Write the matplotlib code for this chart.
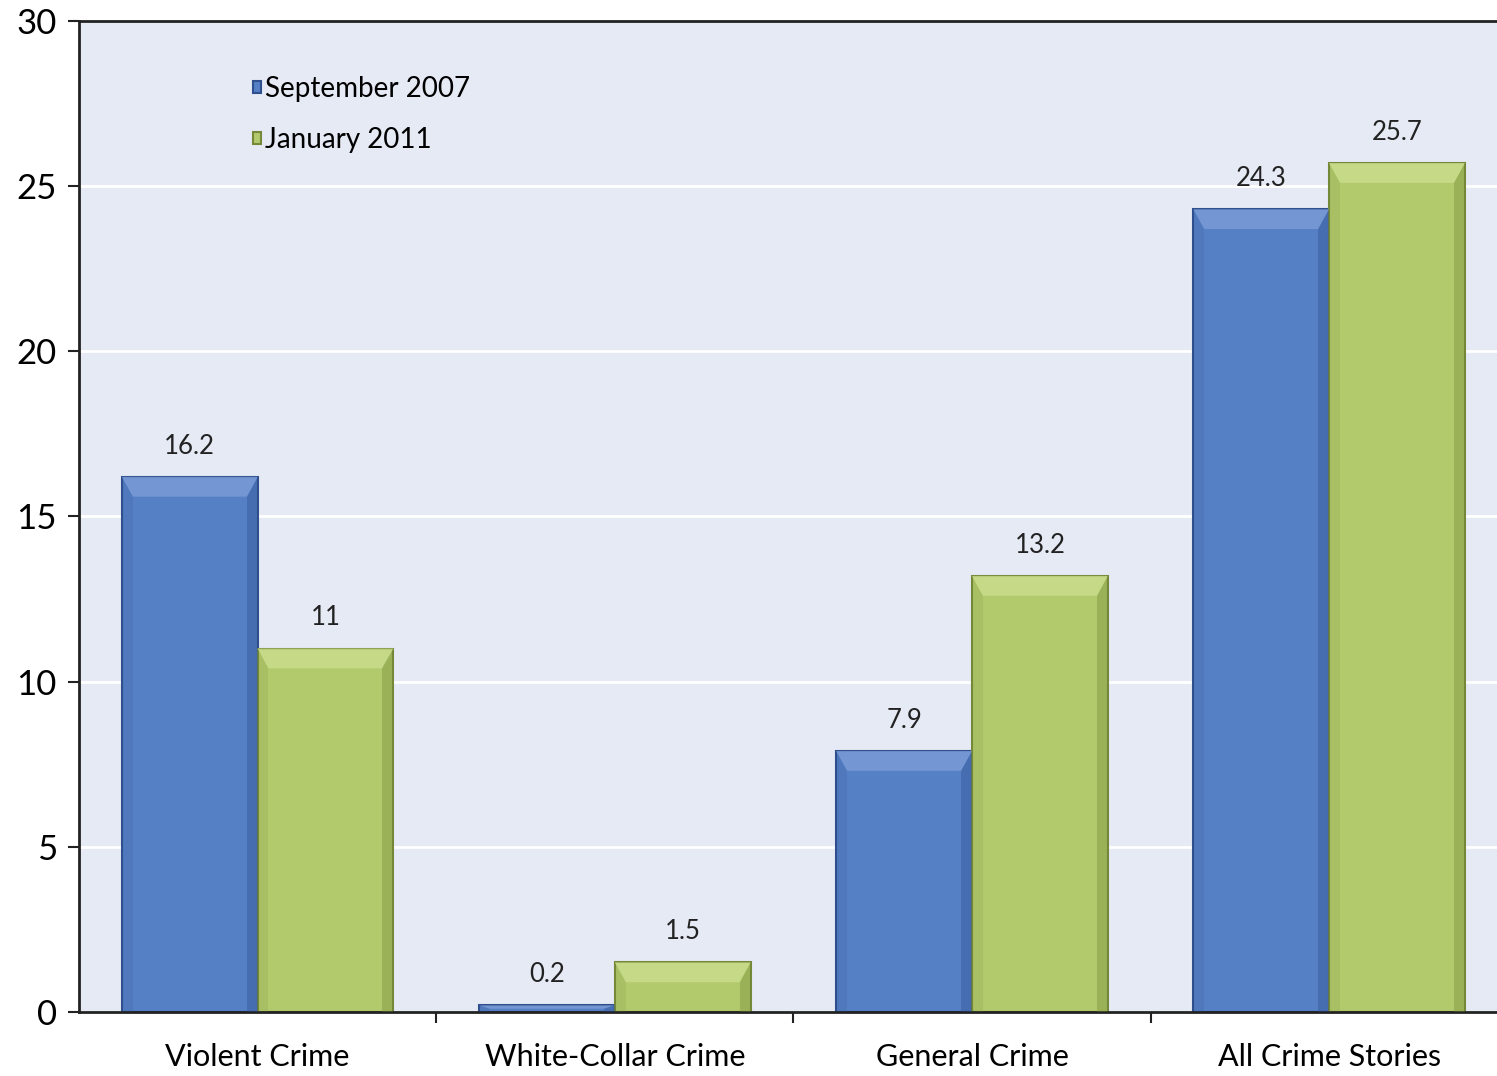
import matplotlib.pyplot as plt
from matplotlib.patches import Polygon
import numpy as np

categories = ["Violent Crime", "White-Collar Crime", "General Crime", "All Crime Stories"]
sep_2007 = [16.2, 0.2, 7.9, 24.3]
jan_2011 = [11, 1.5, 13.2, 25.7]
sep_labels = ["16.2", "0.2", "7.9", "24.3"]
jan_labels = ["11", "1.5", "13.2", "25.7"]
series_names = ["September 2007", "January 2011"]

blue = "#5580C6"
blue_dark = "#2F4F8E"
green = "#B2CA6C"
green_dark = "#76893A"

plt.rcParams['font.family'] = ['Lato', 'DejaVu Sans']

fig = plt.figure(figsize=(14.97, 10.76), dpi=100)
ax = fig.add_axes([0.0528, 0.0595, 0.9472, 0.921])
ax.set_facecolor("#E6EAF5")

x = np.arange(len(categories))
w = 0.38


def bevel(ax, left, width, height, light, dark):
    # fake the bevelled look: lighter top strip, darker sides
    if height <= 0:
        return
    bx = width * 0.08
    by = min(0.6, height * 0.5)
    r = left + width
    top = height
    ax.add_patch(Polygon([(left, top), (r, top), (r - bx, top - by), (left + bx, top - by)],
                         closed=True, facecolor=light, edgecolor="none", alpha=0.8, zorder=3))
    ax.add_patch(Polygon([(r, top), (r, 0), (r - bx, 0), (r - bx, top - by)],
                         closed=True, facecolor=dark, edgecolor="none", alpha=0.35, zorder=3))
    ax.add_patch(Polygon([(left, top), (left, 0), (left + bx, 0), (left + bx, top - by)],
                         closed=True, facecolor=dark, edgecolor="none", alpha=0.15, zorder=3))


b1 = ax.bar(x - w / 2, sep_2007, w, color=blue, edgecolor=blue_dark, linewidth=1.5,
            label=series_names[0], zorder=2)
b2 = ax.bar(x + w / 2, jan_2011, w, color=green, edgecolor=green_dark, linewidth=1.5,
            label=series_names[1], zorder=2)

for bars, light, dark in [(b1, "#7C9DD8", "#2D4C8C"), (b2, "#CBDD8E", "#6F8433")]:
    for b in bars:
        bevel(ax, b.get_x(), b.get_width(), b.get_height(), light, dark)

for bars, labels in [(b1, sep_labels), (b2, jan_labels)]:
    for b, lab in zip(bars, labels):
        ax.text(b.get_x() + b.get_width() / 2, b.get_height() + 0.55, lab,
                ha="center", va="bottom", fontsize=18.5, color="#222222")

ax.set_ylim(0, 30)
ax.set_xlim(-0.5, 3.47)
ax.set_yticks(range(0, 31, 5))
ax.yaxis.grid(True, color="white", linewidth=2)
ax.set_axisbelow(True)
ax.tick_params(axis="y", labelsize=25, length=8, width=1.5, color="#222222", pad=8)

ax.set_xticks(x)
ax.set_xticklabels(categories, fontsize=22)
ax.tick_params(axis="x", which="major", length=0, pad=22)
ax.set_xticks(x[:-1] + 0.5, minor=True)
ax.tick_params(axis="x", which="minor", length=8, width=1.5, color="#222222")

for s in ["left", "bottom", "top"]:
    ax.spines[s].set_linewidth(2)
    ax.spines[s].set_color("#222222")
ax.spines["right"].set_visible(False)

leg = ax.legend(loc="upper left", bbox_to_anchor=(0.105, 0.97), frameon=False, fontsize=20,
                handlelength=0.3, handleheight=0.3, handletextpad=0.15, labelspacing=0.9)

fig.savefig("out.png")
